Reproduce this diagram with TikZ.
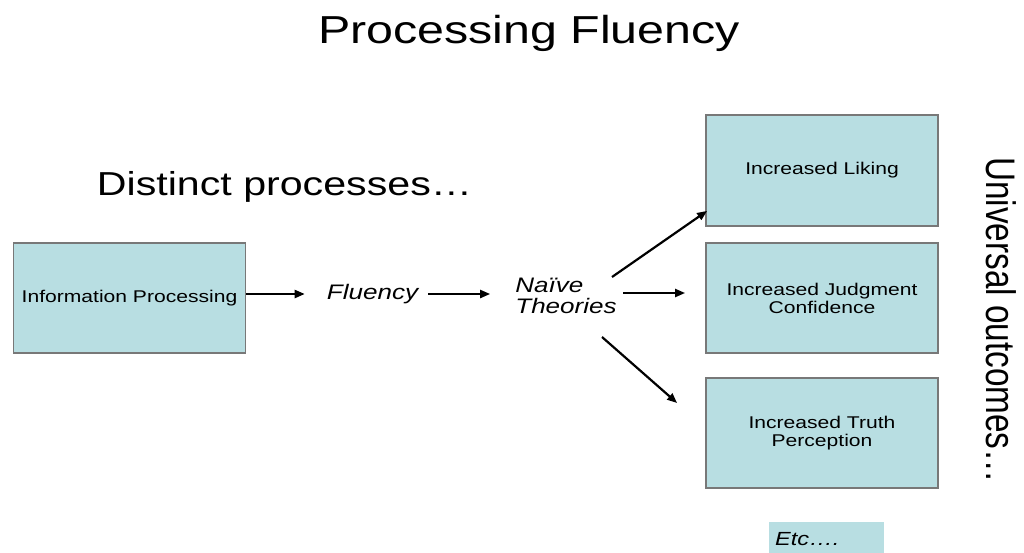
\documentclass[tikz,border=0pt]{standalone}
\usepackage{fontspec}
\setmainfont{Liberation Sans}
\usepackage{graphicx}
\usetikzlibrary{arrows.meta}
\definecolor{boxfill}{RGB}{184,222,226}
\definecolor{boxline}{RGB}{120,120,120}
\newcommand\wide[1]{\scalebox{1.24}[1]{#1}}
\tikzset{
  box/.style={draw=boxline, line width=1.8pt, fill=boxfill, minimum width=232pt,
              minimum height=110pt, inner sep=0pt, align=center,
              font=\fontsize{17}{18}\selectfont},
  label text/.style={inner sep=0pt, font=\fontsize{21}{20.5}\selectfont\itshape},
  arr/.style={line width=2.2pt, -{Triangle[length=10pt,width=8pt]}},
}
\begin{document}
\begin{tikzpicture}[x=1pt, y=-1pt]
\useasboundingbox (0,0) rectangle (1024,552);
\fill[white] (0,0) rectangle (1024,552);

% headings
\node[inner sep=0pt, anchor=base, font=\fontsize{39}{40}\selectfont] (title) at (529,43) {\wide{Processing Fluency}};
\node[inner sep=0pt, anchor=base, font=\fontsize{33.2}{34}\selectfont] (distinct) at (284.5,195) {\wide{Distinct processes…}};
\node[inner sep=0pt, font=\fontsize{33.3}{34}\selectfont] (universal) at (1001.5,320) {\wide{\rotatebox{-90}{Universal outcomes…}}};

% boxes
\node[box] (ip) at (129.5,298) {\raisebox{-2pt}{\wide{Information Processing}}};
\node[box, minimum height=111pt] (liking) at (822,170.5) {\raisebox{-2pt}{\wide{Increased Liking}}};
\node[box] (judg) at (822,298) {\wide{Increased Judgment}\\\wide{Confidence}};
\node[box] (truth) at (822,433) {\raisebox{-2pt}{\wide{Increased Truth}}\\\raisebox{-2pt}{\wide{Perception}}};

% middle terms
\node[label text] (flu) at (372.5,294) {\wide{Fluency}};
\node[label text, align=left] (naive) at (566,296) {\wide{Naïve}\\\wide{Theories}};

% trailing note
\node[fill=boxfill, anchor=base west, inner xsep=6pt, inner ysep=0pt, text width=103pt,
      align=left, text height=23pt, text depth=13pt,
      font=\fontsize{19}{20}\selectfont\itshape] (etc) at (769,545) {\wide{Etc….}};

% connectors
\draw[arr] (ip.east |- flu.west) -- ([xshift=-22pt]flu.west);
\draw[arr] ([xshift=10pt]flu.east) -- ([xshift=-25pt]naive.west |- flu.east);
\draw[arr] ([xshift=46pt,yshift=19pt]naive.center) -- ([xshift=2pt,yshift=16pt]liking.south west);
\draw[arr] ([xshift=57pt,yshift=3pt]naive.center) -- ([xshift=-20pt,yshift=5pt]judg.west);
\draw[arr] ([xshift=36pt,yshift=-41pt]naive.center) -- ([xshift=-28pt,yshift=30pt]truth.west);
\end{tikzpicture}
\end{document}
